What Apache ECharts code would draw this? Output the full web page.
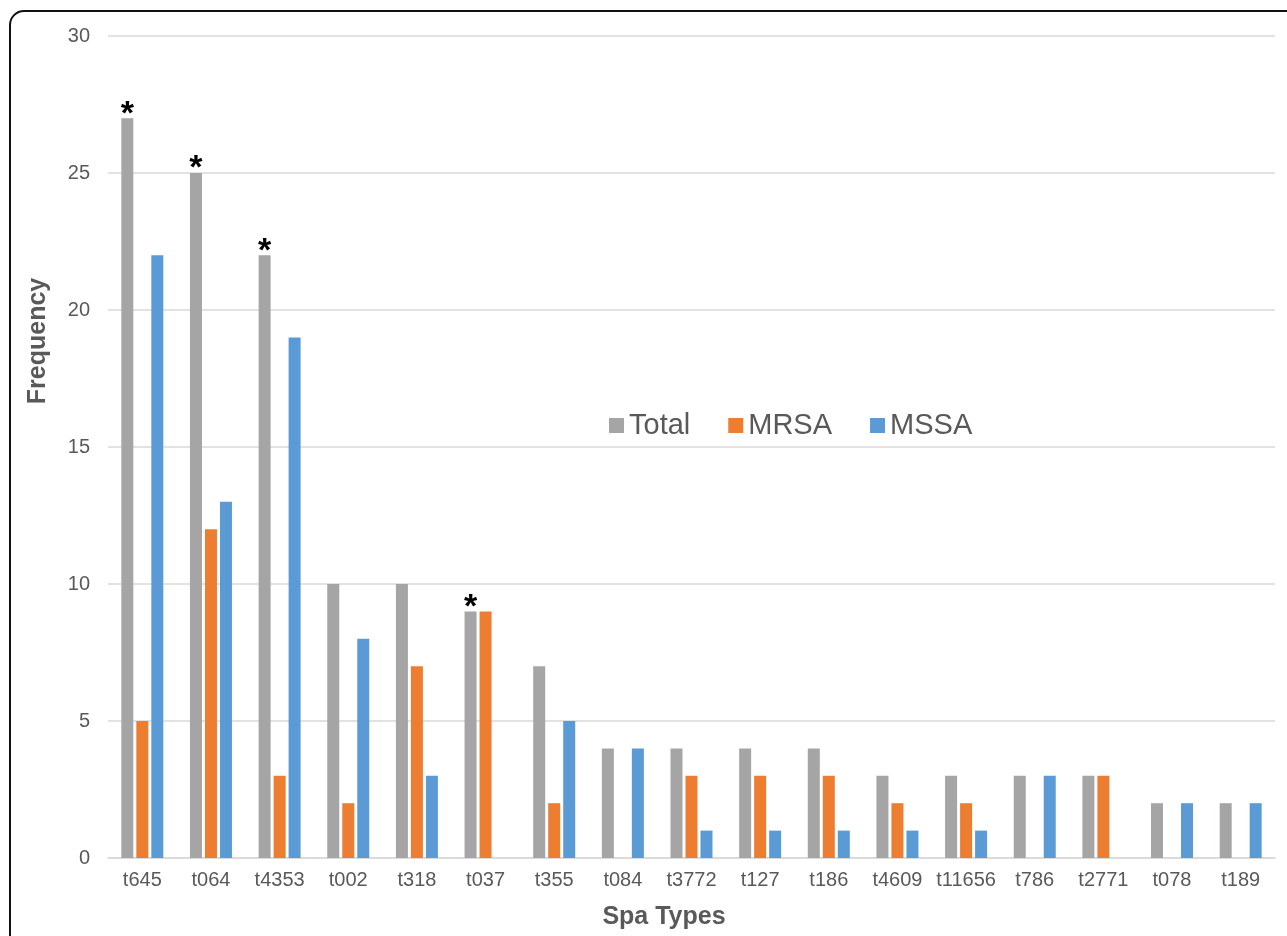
<!DOCTYPE html>
<html><head><meta charset="utf-8">
<script src="https://cdn.jsdelivr.net/npm/echarts@6/dist/echarts.min.js"></script>
<style>html,body{margin:0;padding:0;background:#fff}#c{width:1287px;height:936px}</style>
</head><body><div id="c"></div>
<script>
const categories = ['t645','t064','t4353','t002','t318','t037','t355','t084','t3772','t127','t186','t4609','t11656','t786','t2771','t078','t189'];
const totalValues = [27,25,22,10,10,9,7,4,4,4,4,3,3,3,3,2,2];
const mrsaValues  = [5,12,3,2,7,9,2,0,3,3,3,2,2,0,3,0,0];
const mssaValues  = [22,13,19,8,3,0,5,4,1,1,1,1,1,3,0,2,2];
const starred     = [1,1,1,0,0,1,0,0,0,0,0,0,0,0,0,0,0];
const yTicks = {min:0, max:30, interval:5};
const xAxisTitle = 'Spa Types';
const yAxisTitle = 'Frequency';

const FONT = '"Liberation Sans", Arial, sans-serif';
const chart = echarts.init(document.getElementById('c'), null, {renderer:'canvas'});
const barCommon = {type:'bar', barWidth:12, barGap:'25%'};
chart.setOption({
  animation:false,
  textStyle:{fontFamily:FONT},
  graphic:[
    {type:'rect', shape:{x:10, y:11, width:1320, height:1000, r:14}, style:{fill:'none', stroke:'#111', lineWidth:2}, silent:true},
    {type:'text', x:664, y:917, style:{text:xAxisTitle, fill:'#595959', font:'bold 25px ' + FONT, align:'center', verticalAlign:'middle'}},
    {type:'text', x:38, y:341, rotation:Math.PI/2, style:{text:yAxisTitle, fill:'#595959', font:'bold 25px ' + FONT, align:'center', verticalAlign:'middle'}}
  ],
  grid:{left:108, right:12, top:36, bottom:78},
  legend:{left:604, top:406, itemWidth:15, itemHeight:15, itemGap:38, icon:'rect',
    textStyle:{fontSize:29, color:'#595959', fontFamily:FONT}},
  xAxis:{type:'category', data:categories,
    axisLine:{lineStyle:{color:'#d9d9d9', width:1.5}}, axisTick:{show:false},
    axisLabel:{interval:0, fontSize:20, color:'#595959', margin:12, fontFamily:FONT}},
  yAxis:{type:'value', min:yTicks.min, max:yTicks.max, interval:yTicks.interval,
    axisLine:{show:false}, axisTick:{show:false},
    splitLine:{lineStyle:{color:'#d9d9d9', width:1.5}},
    axisLabel:{fontSize:20, color:'#595959', margin:18, fontFamily:FONT}},
  series:[
    Object.assign({name:'Total', data:totalValues, itemStyle:{color:'#a5a5a5'},
      label:{show:true, position:'top', distance:-13, fontSize:34, fontWeight:'bold', color:'#000',
        formatter:p=>starred[p.dataIndex]?'*':''}}, barCommon),
    Object.assign({name:'MRSA', data:mrsaValues, itemStyle:{color:'#ed7d31'}}, barCommon),
    Object.assign({name:'MSSA', data:mssaValues, itemStyle:{color:'#5b9bd5'}}, barCommon)
  ]
});
</script></body></html>
